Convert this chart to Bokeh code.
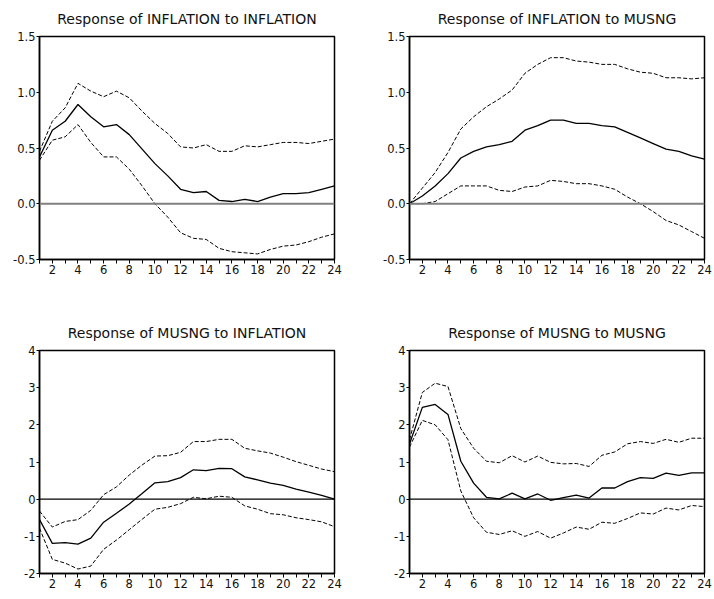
from bokeh.plotting import figure
from bokeh.layouts import gridplot
from bokeh.models import Range1d, FixedTicker, Span, PrintfTickFormatter
from bokeh.embed import file_html
from bokeh.resources import INLINE

periods = list(range(1, 25))

titles = [
    "Response of INFLATION to INFLATION",
    "Response of INFLATION to MUSNG",
    "Response of MUSNG to INFLATION",
    "Response of MUSNG to MUSNG",
]

# Response of INFLATION to INFLATION
inf_inf_resp = [0.42, 0.66, 0.74, 0.89, 0.78, 0.69, 0.71, 0.62, 0.49, 0.36, 0.25, 0.13,
                0.10, 0.11, 0.03, 0.02, 0.04, 0.02, 0.06, 0.09, 0.09, 0.10, 0.13, 0.16]
inf_inf_upper = [0.47, 0.74, 0.86, 1.08, 1.01, 0.96, 1.01, 0.95, 0.83, 0.72, 0.63, 0.51,
                 0.50, 0.53, 0.47, 0.47, 0.52, 0.51, 0.53, 0.55, 0.55, 0.54, 0.56, 0.58]
inf_inf_lower = [0.39, 0.57, 0.60, 0.71, 0.55, 0.42, 0.42, 0.31, 0.16, 0.00, -0.12, -0.26,
                 -0.31, -0.32, -0.40, -0.43, -0.44, -0.45, -0.41, -0.38, -0.37, -0.34, -0.30, -0.27]

# Response of INFLATION to MUSNG
inf_mus_resp = [0.00, 0.07, 0.16, 0.27, 0.41, 0.47, 0.51, 0.53, 0.56, 0.66, 0.70, 0.75,
                0.75, 0.72, 0.72, 0.70, 0.69, 0.64, 0.59, 0.54, 0.49, 0.47, 0.43, 0.40]
inf_mus_upper = [0.00, 0.14, 0.28, 0.46, 0.67, 0.78, 0.87, 0.94, 1.02, 1.17, 1.25, 1.31,
                 1.31, 1.28, 1.27, 1.25, 1.25, 1.21, 1.18, 1.17, 1.13, 1.13, 1.12, 1.13]
inf_mus_lower = [0.00, 0.00, 0.02, 0.09, 0.16, 0.16, 0.16, 0.12, 0.11, 0.15, 0.16, 0.21,
                 0.20, 0.18, 0.18, 0.16, 0.13, 0.06, 0.00, -0.07, -0.15, -0.19, -0.25, -0.31]

# Response of MUSNG to INFLATION
mus_inf_resp = [-0.55, -1.19, -1.17, -1.21, -1.05, -0.62, -0.38, -0.13, 0.15, 0.44, 0.47, 0.58,
                0.79, 0.77, 0.83, 0.82, 0.60, 0.52, 0.43, 0.37, 0.27, 0.19, 0.10, 0.00]
mus_inf_upper = [-0.32, -0.75, -0.60, -0.55, -0.30, 0.12, 0.33, 0.65, 0.92, 1.16, 1.17, 1.26,
                 1.55, 1.55, 1.61, 1.61, 1.37, 1.30, 1.24, 1.13, 1.01, 0.91, 0.81, 0.74]
mus_inf_lower = [-0.78, -1.62, -1.72, -1.88, -1.80, -1.35, -1.10, -0.82, -0.54, -0.27, -0.22, -0.12,
                 0.05, 0.01, 0.08, 0.05, -0.18, -0.27, -0.39, -0.42, -0.50, -0.55, -0.61, -0.74]

# Response of MUSNG to MUSNG
mus_mus_resp = [1.48, 2.47, 2.55, 2.28, 1.02, 0.43, 0.05, 0.01, 0.16, 0.01, 0.14, -0.03,
                0.04, 0.11, 0.03, 0.30, 0.30, 0.47, 0.58, 0.56, 0.70, 0.64, 0.71, 0.71]
mus_mus_upper = [1.60, 2.87, 3.12, 3.03, 1.90, 1.37, 1.02, 0.98, 1.17, 1.00, 1.16, 0.99,
                 0.95, 0.96, 0.88, 1.18, 1.27, 1.49, 1.55, 1.50, 1.61, 1.53, 1.64, 1.64]
mus_mus_lower = [1.40, 2.12, 2.00, 1.60, 0.22, -0.50, -0.89, -0.95, -0.85, -1.00, -0.87, -1.05,
                 -0.91, -0.75, -0.81, -0.62, -0.65, -0.52, -0.37, -0.40, -0.24, -0.29, -0.17, -0.20]

top_y_ticks = [-0.5, 0.0, 0.5, 1.0, 1.5]
bottom_y_ticks = [-2, -1, 0, 1, 2, 3, 4]

FONT = "DejaVu Sans"


def make_panel(title, resp, upper, lower, y_lo, y_hi, y_ticks, y_fmt,
               zero_color, zero_width, width, height, b_left, b_right, b_top, b_bottom):
    p = figure(width=width, height=height, output_backend="svg", toolbar_location=None,
               x_range=Range1d(1, 24), y_range=Range1d(y_lo, y_hi),
               min_border_left=b_left, min_border_right=b_right,
               min_border_top=b_top, min_border_bottom=b_bottom,
               background_fill_color="white", border_fill_color="white")
    p.title.text = title
    p.title.align = "center"
    p.title.vertical_align = "top"
    p.title.text_font = FONT
    p.title.text_font_size = "14px"
    p.title.text_font_style = "normal"
    p.title.text_color = "#111111"
    p.title.standoff = 16

    p.xgrid.visible = False
    p.ygrid.visible = False
    p.outline_line_color = "black"
    p.outline_line_width = 1.5
    p.outline_line_alpha = 1.0

    p.xaxis.ticker = FixedTicker(ticks=periods)
    p.xaxis.major_label_overrides = {i: ("" if i % 2 else str(i)) for i in periods}
    p.xaxis.major_tick_in = 0
    p.xaxis.major_tick_out = 4
    p.xaxis.minor_tick_line_color = None
    p.xaxis.major_label_standoff = 1

    p.yaxis.ticker = FixedTicker(ticks=y_ticks)
    p.yaxis.formatter = PrintfTickFormatter(format=y_fmt)
    p.yaxis.major_tick_in = 0
    p.yaxis.major_tick_out = 3
    p.yaxis.minor_tick_line_color = None
    p.yaxis.major_label_standoff = 1

    for ax in (p.xaxis[0], p.yaxis[0]):
        ax.axis_line_color = "black"
        ax.axis_line_width = 1.5
        ax.major_tick_line_color = "black"
        ax.major_label_text_font = FONT
        ax.major_label_text_font_size = "11.5px"
        ax.major_label_text_color = "#111111"

    p.add_layout(Span(location=0, dimension="width", line_color=zero_color,
                      line_width=zero_width))

    p.line(periods, upper, line_color="black", line_width=1, line_dash="4 2")
    p.line(periods, lower, line_color="black", line_width=1, line_dash="4 2")
    p.line(periods, resp, line_color="black", line_width=1.3)
    return p


p1 = make_panel(titles[0], inf_inf_resp, inf_inf_upper, inf_inf_lower, -0.5, 1.5,
                top_y_ticks, "%.1f", "#808080", 2, 378, 314, 39, 44, 36, 55)
p2 = make_panel(titles[1], inf_mus_resp, inf_mus_upper, inf_mus_lower, -0.5, 1.5,
                top_y_ticks, "%.1f", "#808080", 2, 336, 314, 31, 10, 36, 55)
p3 = make_panel(titles[2], mus_inf_resp, mus_inf_upper, mus_inf_lower, -2, 4,
                bottom_y_ticks, "%d", "black", 1.2, 378, 283, 39, 44, 36, 24)
p4 = make_panel(titles[3], mus_mus_resp, mus_mus_upper, mus_mus_lower, -2, 4,
                bottom_y_ticks, "%d", "black", 1.2, 336, 283, 31, 10, 36, 24)

grid = gridplot([[p1, p2], [p3, p4]], toolbar_location=None)

open("out.html", "w").write(file_html(grid, INLINE))
